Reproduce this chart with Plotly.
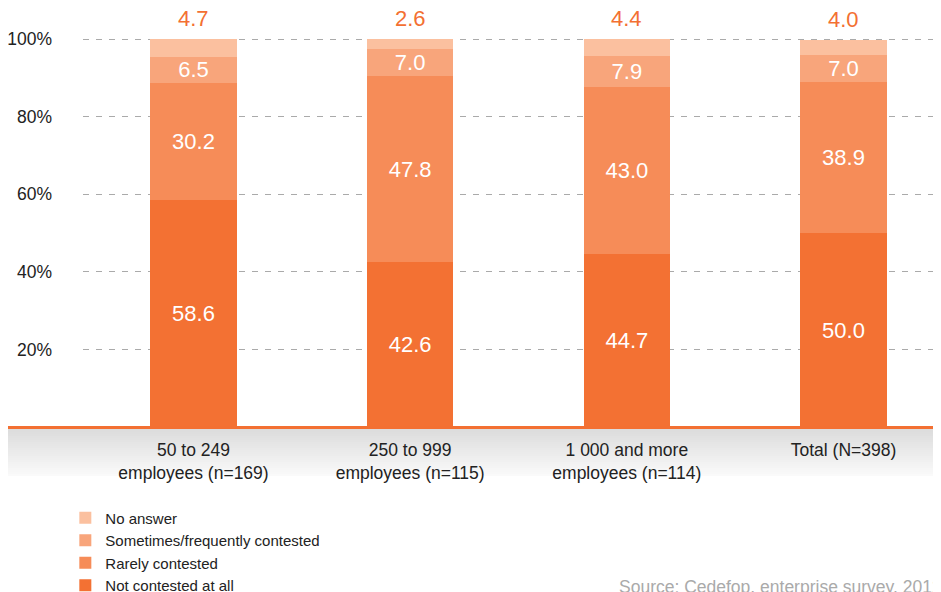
import plotly.graph_objects as go

categories = ["50 to 249<br>employees (n=169)", "250 to 999<br>employees (n=115)",
              "1 000 and more<br>employees (n=114)", "Total (N=398)"]
not_contested = [58.6, 42.6, 44.7, 50.0]
rarely = [30.2, 47.8, 43.0, 38.9]
sometimes = [6.5, 7.0, 7.9, 7.0]
no_answer = [4.7, 2.6, 4.4, 4.0]
y_ticks = [20, 40, 60, 80, 100]
y_tick_text = ["20%", "40%", "60%", "80%", "100%"]

FONT = "Liberation Sans, Arial, sans-serif"
ORANGE = "#F37032"
PLOT_H = 389  # pixel height of the plotting area

series = [
    ("Not contested at all", not_contested, "#F37133", True),
    ("Rarely contested", rarely, "#F68C58", True),
    ("Sometimes/frequently contested", sometimes, "#F8A57B", True),
    ("No answer", no_answer, "#FBC09F", False),
]

fig = go.Figure()
for name, vals, color, show_text in series:
    fig.add_trace(go.Bar(
        x=categories, y=vals, name=name, marker=dict(color=color, line_width=0),
        width=0.397,
        text=[f"{v:.1f}" for v in vals] if show_text else None,
        textposition="inside" if show_text else "none",
        insidetextanchor="middle", constraintext="none",
        textfont=dict(color="white", size=22, family=FONT),
        hoverinfo="skip",
    ))

# no-answer values above each bar
totals = [a + b + c + d for a, b, c, d in zip(not_contested, rarely, sometimes, no_answer)]
for cat, tot, v in zip(categories, totals, no_answer):
    fig.add_annotation(x=cat, y=tot, text=f"{v:.1f}", showarrow=False, yanchor="bottom",
                       yshift=6, font=dict(color=ORANGE, size=22, family=FONT))

# gray fade under the baseline
n_steps = 24
for i in range(n_steps):
    g = int(220 + (250 - 220) * i / (n_steps - 1))
    fig.add_shape(type="rect", xref="paper", yref="paper",
                  x0=-0.09, x1=1.0, y0=-(1 + i * 2) / PLOT_H, y1=-(1 + (i + 1) * 2) / PLOT_H,
                  fillcolor=f"rgb({g},{g},{g})", line_width=0, layer="below")
fig.add_shape(type="line", xref="paper", yref="paper", x0=-0.0897, x1=1.0,
              y0=-0.5 / PLOT_H, y1=-0.5 / PLOT_H, line=dict(color=ORANGE, width=3))

fig.add_annotation(text="Source: Cedefop, enterprise survey, 2012", xref="paper", yref="paper",
                   x=(609 - 75) / 858, y=-160 / PLOT_H, xanchor="left", yanchor="middle",
                   showarrow=False, font=dict(color="#AAAAAA", size=17.5, family=FONT))

fig.update_layout(
    width=933, height=584, barmode="stack",
    margin=dict(l=75, r=0, t=30, b=165, autoexpand=False),
    paper_bgcolor="white", plot_bgcolor="white",
    font=dict(family=FONT, color="#222222"),
    showlegend=True,
    legend=dict(traceorder="reversed", orientation="v", x=-0.0206, y=-0.1915, xanchor="left",
                yanchor="top", font=dict(size=15, family=FONT, color="#222222"),
                bgcolor="rgba(0,0,0,0)", itemclick=False),
    xaxis=dict(range=[-0.51, 3.45], showgrid=False, showline=False, zeroline=False,
               automargin=False,
               tickfont=dict(size=17.5, family=FONT, color="#222222"),
               ticks="outside", ticklen=7, tickcolor="rgba(0,0,0,0)"),
    yaxis=dict(range=[0, 100.3], tickvals=y_ticks, ticktext=y_tick_text, showgrid=True,
               gridcolor="#AAAAAA", griddash="6px,7px", gridwidth=1, zeroline=False,
               showline=False, ticklabelstandoff=30, automargin=False,
               tickfont=dict(size=17.5, family=FONT, color="#222222")),
)

fig.write_html("out.html")
